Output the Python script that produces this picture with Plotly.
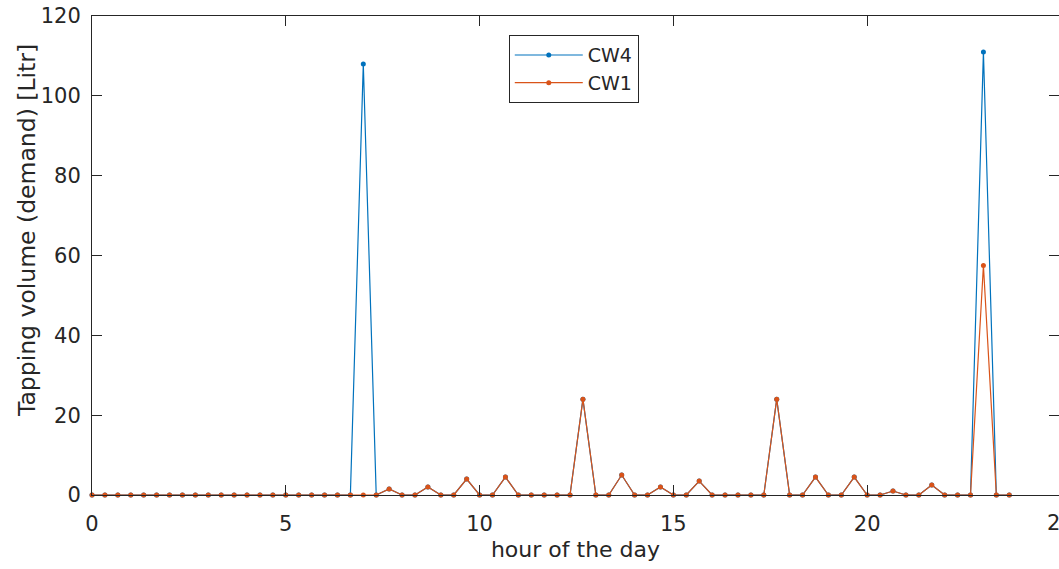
import plotly.graph_objects as go

# Sampling grid: one reading every 20 minutes over the day
minutes = list(range(0, 24 * 60, 20))
hours = [m / 60 for m in minutes]

# Tapping volume per 20-minute slot [Litr]
cw4 = [
    0, 0, 0, 0, 0, 0, 0, 0, 0, 0, 0, 0,
    0, 0, 0, 0, 0, 0, 0, 0, 0, 108, 0, 1.5,
    0, 0, 2, 0, 0, 4, 0, 0, 4.5, 0, 0, 0,
    0, 0, 24, 0, 0, 5, 0, 0, 2, 0, 0, 3.5,
    0, 0, 0, 0, 0, 24, 0, 0, 4.5, 0, 0, 4.5,
    0, 0, 1, 0, 0, 2.5, 0, 0, 0, 111, 0, 0,
]
cw1 = [
    0, 0, 0, 0, 0, 0, 0, 0, 0, 0, 0, 0,
    0, 0, 0, 0, 0, 0, 0, 0, 0, 0, 0, 1.5,
    0, 0, 2, 0, 0, 4, 0, 0, 4.5, 0, 0, 0,
    0, 0, 24, 0, 0, 5, 0, 0, 2, 0, 0, 3.5,
    0, 0, 0, 0, 0, 24, 0, 0, 4.5, 0, 0, 4.5,
    0, 0, 1, 0, 0, 2.5, 0, 0, 0, 57.5, 0, 0,
]

x_ticks = [0, 5, 10, 15, 20, 25]
y_ticks = [0, 20, 40, 60, 80, 100, 120]

BLUE = "#0072BD"
ORANGE = "#D95319"
AXIS = "#262626"
FONT = "DejaVu Sans, Arial, sans-serif"

X_MAX = 24.95  # right edge of the axes box (x=25 falls just outside)

fig = go.Figure()
fig.add_trace(go.Scatter(
    x=hours, y=cw4, name="CW4", mode="lines+markers",
    line=dict(color=BLUE, width=1.2),
    marker=dict(color=BLUE, size=5),
    cliponaxis=False,
))
fig.add_trace(go.Scatter(
    x=hours, y=cw1, name="CW1", mode="lines+markers",
    line=dict(color=ORANGE, width=1.2),
    marker=dict(color=ORANGE, size=5),
    cliponaxis=False,
))

axis_common = dict(
    showgrid=False, zeroline=False, showline=True, linecolor=AXIS, linewidth=1,
    mirror="ticks", ticks="inside", ticklen=10, tickwidth=1.3, tickcolor=AXIS,
    tickfont=dict(family=FONT, size=21, color=AXIS),
)

fig.update_layout(
    width=1059, height=569,
    margin=dict(l=92, r=0, t=16, b=74),
    paper_bgcolor="white", plot_bgcolor="white",
    font=dict(family=FONT, color=AXIS),
    showlegend=True,
    legend=dict(
        x=0.431, y=0.96, xanchor="left", yanchor="top",
        bordercolor=AXIS, borderwidth=1, bgcolor="white",
        font=dict(family=FONT, size=19, color=AXIS),
        itemwidth=68, tracegroupgap=0,
    ),
    xaxis=dict(
        range=[0, X_MAX], tickvals=x_ticks, ticktext=[str(v) for v in x_ticks],
        ticklabelstandoff=10,
        title=dict(text="hour of the day", font=dict(family=FONT, size=22, color=AXIS), standoff=6),
        **axis_common,
    ),
    yaxis=dict(
        range=[0, 120], tickvals=y_ticks, ticklabelstandoff=6,
        **axis_common,
    ),
)

# y-axis label, placed as a rotated annotation left of the tick labels
fig.add_annotation(
    xref="paper", yref="paper", x=(27 - 92) / 967, y=(495 - 231) / 479,
    xanchor="center", yanchor="middle", textangle=-90,
    text="Tapping volume (demand) [Litr]", showarrow=False,
    font=dict(family=FONT, size=23.5, color=AXIS),
)

# Tick label for 25 sits just past the right edge of the axes
fig.add_annotation(
    xref="paper", yref="paper", x=25 / X_MAX, y=0,
    xanchor="center", yanchor="top", yshift=-14,
    text="25", showarrow=False, font=dict(family=FONT, size=21, color=AXIS),
)

fig.write_html("out.html")
